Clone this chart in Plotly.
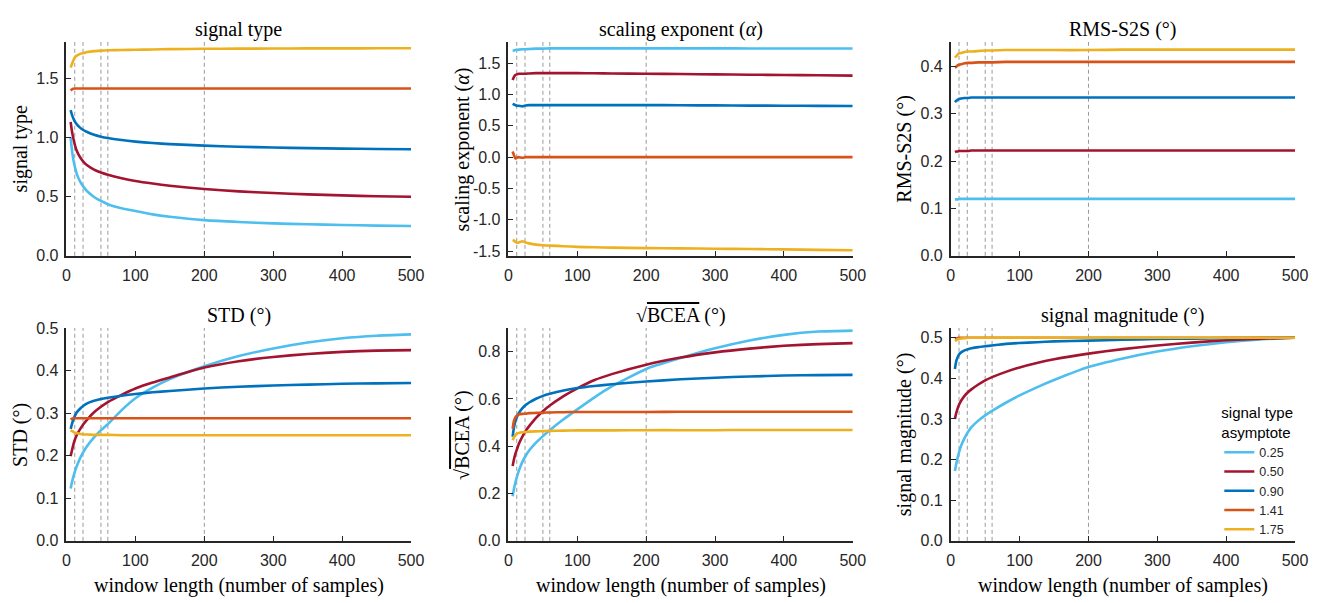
import plotly.graph_objects as go

# ---------------- data ----------------
WINDOW = [6, 8, 10, 12, 15, 20, 25, 30, 40, 50, 60, 80, 100, 125, 150, 200, 250, 300, 350, 400, 450, 500]
ASYMPTOTES = ["0.25", "0.50", "0.90", "1.41", "1.75"]
COLORS = ["#4DBEEE", "#A2142F", "#0072BD", "#D95319", "#EDB120"]
VLINES = [12, 24, 50, 60, 200]
X_TICKS = [0, 100, 200, 300, 400, 500]

# panel 1: signal type
sigtype_025 = [1.00, 0.89, 0.81, 0.755, 0.69, 0.625, 0.58, 0.545, 0.497, 0.463, 0.436, 0.402, 0.378, 0.35, 0.33, 0.301, 0.285, 0.274, 0.266, 0.26, 0.255, 0.252]
sigtype_050 = [1.13, 1.05, 0.99, 0.94, 0.885, 0.83, 0.792, 0.765, 0.728, 0.703, 0.684, 0.655, 0.632, 0.61, 0.592, 0.564, 0.544, 0.53, 0.519, 0.51, 0.503, 0.498]
sigtype_090 = [1.23, 1.19, 1.16, 1.135, 1.11, 1.08, 1.06, 1.045, 1.022, 1.006, 0.994, 0.977, 0.964, 0.952, 0.943, 0.93, 0.921, 0.914, 0.909, 0.905, 0.902, 0.90]
sigtype_141 = [1.395, 1.405, 1.41, 1.412, 1.413, 1.413, 1.413, 1.413, 1.413, 1.413, 1.413, 1.413, 1.413, 1.413, 1.413, 1.413, 1.413, 1.413, 1.413, 1.413, 1.413, 1.413]
sigtype_175 = [1.59, 1.62, 1.65, 1.675, 1.69, 1.705, 1.712, 1.72, 1.728, 1.732, 1.735, 1.738, 1.74, 1.742, 1.745, 1.748, 1.749, 1.75, 1.751, 1.751, 1.752, 1.752]

# panel 2: scaling exponent
alpha_025 = [1.70, 1.70, 1.71, 1.71, 1.715, 1.72, 1.72, 1.725, 1.73, 1.73, 1.735, 1.735, 1.735, 1.735, 1.735, 1.735, 1.735, 1.735, 1.733, 1.733, 1.732, 1.732]
alpha_050 = [1.23, 1.28, 1.31, 1.32, 1.33, 1.33, 1.33, 1.335, 1.34, 1.34, 1.34, 1.34, 1.34, 1.338, 1.335, 1.33, 1.325, 1.32, 1.315, 1.31, 1.305, 1.30]
alpha_090 = [0.85, 0.84, 0.83, 0.82, 0.82, 0.81, 0.825, 0.83, 0.83, 0.83, 0.83, 0.83, 0.83, 0.83, 0.83, 0.83, 0.828, 0.825, 0.822, 0.82, 0.818, 0.815]
alpha_141 = [0.09, 0.03, -0.02, -0.01, 0.0, -0.01, 0.0, 0.0, 0.0, 0.0, 0.0, 0.0, 0.0, 0.0, 0.0, 0.0, 0.0, 0.0, 0.0, 0.0, 0.0, 0.0]
alpha_175 = [-1.32, -1.33, -1.35, -1.365, -1.36, -1.34, -1.36, -1.375, -1.395, -1.405, -1.41, -1.42, -1.43, -1.437, -1.443, -1.45, -1.455, -1.46, -1.465, -1.47, -1.478, -1.485]

# panel 3: RMS-S2S
rms_025 = [0.119, 0.119, 0.119, 0.12, 0.12, 0.12, 0.12, 0.12, 0.12, 0.12, 0.12, 0.12, 0.12, 0.12, 0.12, 0.12, 0.12, 0.12, 0.12, 0.12, 0.12, 0.12]
rms_050 = [0.219, 0.22, 0.22, 0.221, 0.221, 0.221, 0.221, 0.222, 0.222, 0.222, 0.222, 0.222, 0.222, 0.222, 0.222, 0.222, 0.222, 0.222, 0.222, 0.222, 0.222, 0.222]
rms_090 = [0.324, 0.327, 0.329, 0.331, 0.332, 0.333, 0.333, 0.334, 0.334, 0.334, 0.334, 0.334, 0.334, 0.334, 0.334, 0.334, 0.334, 0.334, 0.334, 0.334, 0.334, 0.334]
rms_141 = [0.397, 0.399, 0.402, 0.403, 0.404, 0.406, 0.407, 0.407, 0.408, 0.408, 0.408, 0.409, 0.409, 0.409, 0.409, 0.409, 0.409, 0.409, 0.409, 0.409, 0.409, 0.409]
rms_175 = [0.418, 0.421, 0.425, 0.427, 0.428, 0.43, 0.431, 0.431, 0.432, 0.433, 0.433, 0.434, 0.434, 0.434, 0.434, 0.434, 0.435, 0.435, 0.435, 0.435, 0.435, 0.435]

# panel 4: STD
std_025 = [0.123, 0.138, 0.151, 0.162, 0.176, 0.195, 0.21, 0.223, 0.243, 0.26, 0.274, 0.307, 0.335, 0.36, 0.38, 0.41, 0.434, 0.452, 0.466, 0.476, 0.482, 0.485]
std_050 = [0.199, 0.213, 0.226, 0.237, 0.249, 0.263, 0.275, 0.285, 0.302, 0.315, 0.326, 0.343, 0.358, 0.372, 0.384, 0.407, 0.422, 0.432, 0.439, 0.444, 0.447, 0.448]
std_090 = [0.263, 0.275, 0.285, 0.293, 0.302, 0.311, 0.318, 0.323, 0.329, 0.333, 0.336, 0.341, 0.345, 0.349, 0.352, 0.358, 0.362, 0.365, 0.367, 0.369, 0.370, 0.371]
std_141 = [0.285, 0.287, 0.288, 0.288, 0.288, 0.288, 0.288, 0.288, 0.288, 0.288, 0.288, 0.288, 0.288, 0.288, 0.288, 0.288, 0.288, 0.288, 0.288, 0.288, 0.288, 0.288]
std_175 = [0.26, 0.258, 0.256, 0.254, 0.253, 0.251, 0.25, 0.25, 0.249, 0.249, 0.249, 0.248, 0.248, 0.248, 0.248, 0.248, 0.248, 0.248, 0.248, 0.248, 0.248, 0.248]

# panel 5: sqrt(BCEA)
bcea_025 = [0.189, 0.22, 0.246, 0.268, 0.296, 0.333, 0.36, 0.382, 0.415, 0.443, 0.468, 0.514, 0.556, 0.607, 0.653, 0.727, 0.773, 0.814, 0.847, 0.871, 0.885, 0.889]
bcea_050 = [0.316, 0.345, 0.368, 0.385, 0.41, 0.44, 0.465, 0.485, 0.52, 0.548, 0.572, 0.612, 0.645, 0.68, 0.705, 0.745, 0.775, 0.797, 0.813, 0.825, 0.832, 0.836]
bcea_090 = [0.44, 0.48, 0.505, 0.522, 0.54, 0.56, 0.574, 0.585, 0.601, 0.613, 0.622, 0.636, 0.646, 0.655, 0.662, 0.674, 0.683, 0.69, 0.695, 0.699, 0.701, 0.702]
bcea_141 = [0.474, 0.508, 0.522, 0.529, 0.534, 0.537, 0.538, 0.54, 0.541, 0.542, 0.543, 0.544, 0.545, 0.545, 0.545, 0.545, 0.546, 0.546, 0.546, 0.546, 0.546, 0.546]
bcea_175 = [0.426, 0.438, 0.447, 0.453, 0.456, 0.459, 0.46, 0.462, 0.463, 0.464, 0.465, 0.466, 0.467, 0.467, 0.467, 0.468, 0.468, 0.468, 0.469, 0.469, 0.469, 0.469]

# panel 6: signal magnitude
mag_025 = [0.172, 0.19, 0.205, 0.218, 0.234, 0.253, 0.268, 0.28, 0.296, 0.309, 0.32, 0.34, 0.358, 0.378, 0.396, 0.428, 0.449, 0.466, 0.479, 0.489, 0.496, 0.5]
mag_050 = [0.30, 0.315, 0.326, 0.335, 0.345, 0.357, 0.366, 0.373, 0.385, 0.395, 0.403, 0.416, 0.427, 0.438, 0.447, 0.461, 0.472, 0.481, 0.488, 0.494, 0.498, 0.5]
mag_090 = [0.423, 0.443, 0.452, 0.459, 0.464, 0.469, 0.472, 0.474, 0.477, 0.479, 0.481, 0.485, 0.487, 0.489, 0.491, 0.493, 0.495, 0.497, 0.498, 0.499, 0.5, 0.5]
mag_141 = [0.497, 0.498, 0.499, 0.5, 0.5, 0.5, 0.5, 0.5, 0.5, 0.5, 0.5, 0.5, 0.5, 0.5, 0.5, 0.5, 0.5, 0.5, 0.5, 0.5, 0.5, 0.5]
mag_175 = [0.492, 0.494, 0.496, 0.497, 0.498, 0.499, 0.5, 0.5, 0.5, 0.5, 0.5, 0.5, 0.5, 0.5, 0.5, 0.5, 0.5, 0.5, 0.5, 0.5, 0.5, 0.5]

TITLES = ["signal type", "scaling exponent (<i>α</i>)", "RMS-S2S (°)",
          "STD (°)", "√<span style='text-decoration:overline'>BCEA</span> (°)", "signal magnitude (°)"]
Y_RANGES = [[0, 1.805], [-1.573, 1.836], [0, 0.451], [0, 0.5], [0, 0.9], [0, 0.524]]
Y_TICKVALS = [[0, 0.5, 1.0, 1.5], [-1.5, -1.0, -0.5, 0.0, 0.5, 1.0, 1.5], [0, 0.1, 0.2, 0.3, 0.4],
              [0, 0.1, 0.2, 0.3, 0.4, 0.5], [0, 0.2, 0.4, 0.6, 0.8], [0, 0.1, 0.2, 0.3, 0.4, 0.5]]
Y_TICKTEXT = [["0.0", "0.5", "1.0", "1.5"], ["-1.5", "-1.0", "-0.5", "0.0", "0.5", "1.0", "1.5"],
              ["0.0", "0.1", "0.2", "0.3", "0.4"], ["0.0", "0.1", "0.2", "0.3", "0.4", "0.5"],
              ["0.0", "0.2", "0.4", "0.6", "0.8"], ["0.0", "0.1", "0.2", "0.3", "0.4", "0.5"]]
X_LABEL = "window length (number of samples)"

PANELS = [
    [sigtype_025, sigtype_050, sigtype_090, sigtype_141, sigtype_175],
    [alpha_025, alpha_050, alpha_090, alpha_141, alpha_175],
    [rms_025, rms_050, rms_090, rms_141, rms_175],
    [std_025, std_050, std_090, std_141, std_175],
    [bcea_025, bcea_050, bcea_090, bcea_141, bcea_175],
    [mag_025, mag_050, mag_090, mag_141, mag_175],
]

# ---------------- layout geometry (pixels) ----------------
W, H = 1333, 603
COL_PX = [(63.3, 412.3), (511.0, 859.7), (959.0, 1307.7)]
ROW_PX = [(35.0, 255.0), (329.3, 548.3)]

SANS = "Liberation Sans"
SERIF = "Liberation Serif"
INK = "#262626"

fig = go.Figure()
layout = dict(width=W, height=H, margin=dict(l=0, r=0, t=0, b=0),
              paper_bgcolor="white", plot_bgcolor="white", showlegend=True)
annotations = []
shapes = []

for p in range(6):
    r, c = divmod(p, 3)
    idx = "" if p == 0 else str(p + 1)
    xa, ya = "x" + idx, "y" + idx
    x0, x1 = COL_PX[c]
    y0, y1 = ROW_PX[r]
    axis_common = dict(showline=True, linecolor=INK, linewidth=1.6, ticks="inside", ticklen=5,
                       tickwidth=1.4, tickcolor=INK, showgrid=False, zeroline=False,
                       tickfont=dict(family=SANS, size=16, color=INK))
    layout["xaxis" + idx] = dict(domain=[x0 / W, x1 / W], anchor=ya, range=[0, 500],
                                 tickvals=X_TICKS, ticktext=[str(v) for v in X_TICKS],
                                 ticklabelstandoff=4, **axis_common)
    layout["yaxis" + idx] = dict(domain=[1 - y1 / H, 1 - y0 / H], anchor=xa, range=Y_RANGES[p],
                                 tickvals=Y_TICKVALS[p], ticktext=Y_TICKTEXT[p],
                                 ticklabelstandoff=3, **axis_common)

    for v in VLINES:
        shapes.append(dict(type="line", xref=xa, yref=ya + " domain", x0=v, x1=v, y0=0, y1=1,
                           line=dict(color="#9a9a9a", width=1, dash="4px,3px"), layer="below"))

    for k, series in enumerate(PANELS[p]):
        fig.add_trace(go.Scatter(x=WINDOW, y=series, xaxis=xa, yaxis=ya, mode="lines",
                                 line=dict(color=COLORS[k], width=2.6, shape="spline", smoothing=0.5),
                                 name=ASYMPTOTES[k], legendgroup=ASYMPTOTES[k], showlegend=(p == 5)))

    # panel title
    annotations.append(dict(text=TITLES[p], xref=xa + " domain", yref=ya + " domain", x=0.5, y=1,
                            xanchor="center", yanchor="middle", yshift=13, showarrow=False,
                            font=dict(family=SERIF, size=20, color="black")))
    # y title
    annotations.append(dict(text=TITLES[p], xref=xa + " domain", yref=ya + " domain", x=0, y=0.5,
                            xanchor="center", yanchor="middle", xshift=-46, textangle=-90,
                            showarrow=False, font=dict(family=SERIF, size=20, color="black")))
    if r == 1:
        annotations.append(dict(text=X_LABEL, xref=xa + " domain", yref=ya + " domain", x=0.5, y=0,
                                xanchor="center", yanchor="middle", yshift=-45, showarrow=False,
                                font=dict(family=SERIF, size=20, color="black")))

layout["annotations"] = annotations
layout["shapes"] = shapes
layout["legend"] = dict(x=1231 / W, y=1 - 402 / H, xanchor="left", yanchor="top",
                        bgcolor="rgba(0,0,0,0)", borderwidth=0,
                        font=dict(family=SANS, size=12.5, color=INK),
                        title=dict(text="signal type<br>asymptote", font=dict(family=SANS, size=15, color="black")),
                        tracegroupgap=0, itemwidth=30)
fig.update_layout(**layout)
fig.write_html("out.html")
